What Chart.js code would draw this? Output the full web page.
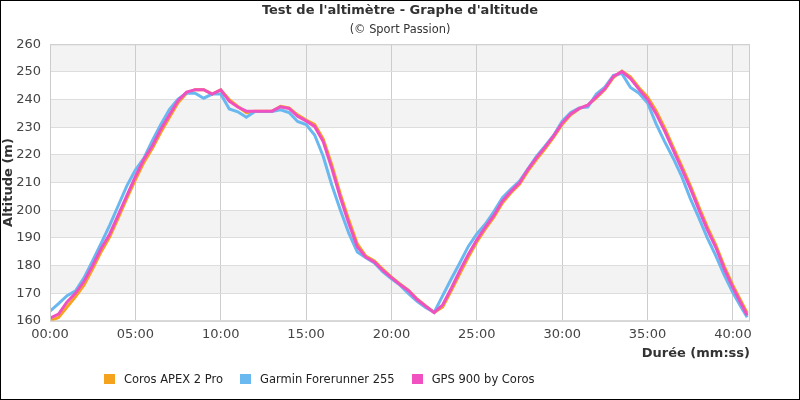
<!DOCTYPE html>
<html>
<head>
<meta charset="utf-8">
<script src="https://cdn.jsdelivr.net/npm/chart.js@4"></script>
<style>
  body { margin: 0; background: #fff; }
  #wrap { width: 800px; height: 400px; position: relative; }
  #legend { position: absolute; left: 104px; top: 371px; display: flex;
            font: 11.5px "DejaVu Sans", sans-serif; color: #222; line-height: 16px; }
  #legend .item { display: flex; align-items: center; margin-right: 17px; }
  #legend .box { width: 11px; height: 10px; margin-right: 9px; }
</style>
</head>
<body>
<div id="wrap">
  <canvas id="altChart"></canvas>
  <div id="legend"></div>
</div>
<script>
// temps en secondes (toutes les 30 s)
const times = [0,30,60,90,120,150,180,210,240,270,300,330,360,390,420,450,480,510,540,570,
  600,630,660,690,720,750,780,810,840,870,900,930,960,990,1020,1050,1080,1110,1140,1170,
  1200,1230,1260,1290,1320,1350,1380,1410,1440,1470,1500,1530,1560,1590,1620,1650,1680,1710,1740,1770,
  1800,1830,1860,1890,1920,1950,1980,2010,2040,2070,2100,2130,2160,2190,2220,2250,2280,2310,2340,2370,
  2400,2430,2450];

const corosApex = [160,161.2,165,168.8,173,178.8,185,190.4,197.2,204.3,211,217.3,222.4,228.3,233.6,238.9,242.3,243.6,243.6,242,
  243.5,240,237.5,235.3,235.8,235.8,235.8,237.6,237,234.5,232.6,231,225.8,216.5,206,196.5,187.8,183.4,181.6,178.6,
  175.8,173.3,171,167.9,165.4,163,165,170.8,177,183,188.5,193.2,197.5,202.6,206.3,209.4,214.2,218.4,222.2,226.4,
  231,234.5,236.7,238,240.6,243.6,248,250.3,248.2,244.3,241,236,229.8,222.8,216,209,201.3,194,187.4,179.6,
  172.8,166.8,162.8];

const garmin255 = [163.5,166.2,169.1,170.8,175.6,181.7,188.1,194.6,201.7,208.8,214.5,218.8,225.2,231.1,236.5,240.2,242.4,242.3,240.5,242,
  242,236.6,235.6,233.6,235.7,235.7,235.7,236.3,235.3,232.1,231,227.2,219.5,209.2,200.2,191.7,184.9,182.8,180.9,177.7,
  175.2,172.9,169.8,167,164.8,163,169.1,175.1,180.9,186.9,191.4,195,199.5,204.5,207.6,210.5,215,219.5,223.2,227.1,
  232.2,235.3,237,237.3,242,244.5,248.8,249.4,244.4,242.3,238.8,231.2,224.8,218.8,212.2,204.3,197.3,190,183.5,176.4,
  170.1,164.7,161.3];

const gps900 = [161,162.4,166.8,170,174.3,180,186.2,191.4,198.3,205.3,212.1,218.4,223.3,229.4,234.5,239.6,242.7,243.6,243.6,242,
  243.5,239.4,237.3,235.8,235.8,235.8,235.8,237.4,236.8,234,232.3,230.3,224.8,215.3,204.7,195.3,186.8,183,181.3,178.2,
  175.6,173.1,170.9,167.7,165.3,163,165.8,171.7,178,184,189.3,193.9,198.1,203.3,206.8,209.9,214.8,219,222.8,226.9,
  231.5,234.8,236.8,238,241,243.9,248.4,250.1,247.6,243.7,240.1,234.9,228.7,221.8,215,208,200.3,193,186.5,178.7,
  172,166,162];

const seriesNames = ['Coros APEX 2 Pro', 'Garmin Forerunner 255', 'GPS 900 by Coros'];
const seriesColors = ['#f5a31e', '#6ab8f0', '#f050c0'];
const xTicks = [0, 300, 600, 900, 1200, 1500, 1800, 2100, 2400];

function toPoints(values) {
  return values.map((v, i) => ({ x: times[i], y: v }));
}

function mmss(sec) {
  const m = Math.floor(sec / 60);
  const s = sec % 60;
  return String(m).padStart(2, '0') + ':' + String(s).padStart(2, '0');
}

// bandes grises alternées + cadres
const bandsPlugin = {
  id: 'bands',
  beforeDraw(chart) {
    const { ctx, chartArea, scales } = chart;
    const y = scales.y;
    ctx.save();
    ctx.fillStyle = '#f3f3f3';
    for (let v = 170; v < 260; v += 20) {
      const top = y.getPixelForValue(v + 10);
      const bot = y.getPixelForValue(v);
      ctx.fillRect(chartArea.left, top, chartArea.right - chartArea.left, bot - top);
    }
    ctx.restore();
  },
  afterDatasetsDraw(chart) {
    const { ctx, chartArea } = chart;
    ctx.save();
    ctx.strokeStyle = '#cccccc';
    ctx.lineWidth = 1;
    ctx.strokeRect(chartArea.left + 0.5, chartArea.top + 0.5,
      chartArea.right - chartArea.left - 1, chartArea.bottom - chartArea.top);
    ctx.restore();
  },
  afterDraw(chart) {
    const ctx = chart.ctx;
    ctx.save();
    ctx.strokeStyle = '#000';
    ctx.lineWidth = 1;
    ctx.strokeRect(0.5, 0.5, chart.width - 1, chart.height - 1);
    ctx.restore();
  }
};

// légende en HTML
const legendEl = document.getElementById('legend');
seriesNames.forEach((name, i) => {
  const item = document.createElement('div');
  item.className = 'item';
  const box = document.createElement('span');
  box.className = 'box';
  box.style.background = seriesColors[i];
  const txt = document.createElement('span');
  txt.textContent = name;
  item.appendChild(box);
  item.appendChild(txt);
  legendEl.appendChild(item);
});

const ctx = document.getElementById('altChart').getContext('2d');
const altChart = new Chart(ctx, {
  type: 'line',
  data: {
    datasets: [corosApex, garmin255, gps900].map((vals, i) => ({
      label: seriesNames[i],
      data: toPoints(vals),
      borderColor: seriesColors[i],
      backgroundColor: seriesColors[i],
      borderWidth: 3,
      pointRadius: 0,
      tension: 0,
      order: 2 - i
    }))
  },
  options: {
    responsive: true,
    maintainAspectRatio: false,
    animation: false,
    layout: { padding: { left: 0, right: 0, top: 0, bottom: 39 } },
    scales: {
      x: {
        type: 'linear',
        min: 0,
        max: 2460,
        afterBuildTicks(scale) {
          scale.ticks = xTicks.map(v => ({ value: v }));
        },
        grid: { color: '#cccccc', drawTicks: false },
        border: { display: false },
        ticks: {
          callback: v => mmss(v),
          color: '#444',
          font: { family: 'DejaVu Sans', size: 13 },
          padding: 6,
          maxRotation: 0
        },
        title: {
          display: true,
          text: 'Durée (mm:ss)',
          align: 'end',
          color: '#333',
          font: { family: 'DejaVu Sans', size: 13, weight: 'bold' },
          padding: { top: -3, bottom: 0 }
        }
      },
      y: {
        min: 160,
        max: 260,
        afterFit(scale) { scale.width = 50; },
        ticks: {
          stepSize: 10,
          color: '#444',
          font: { family: 'DejaVu Sans', size: 13 },
          padding: 9
        },
        grid: { color: '#dddddd', drawTicks: false },
        border: { display: false },
        title: {
          display: true,
          text: 'Altitude (m)',
          color: '#333',
          font: { family: 'DejaVu Sans', size: 13, weight: 'bold' },
          padding: { top: 1, bottom: 0 }
        }
      },
      yRight: {
        position: 'right',
        min: 160,
        max: 260,
        afterFit(scale) { scale.width = 50; },
        ticks: { display: false },
        grid: { display: false },
        border: { display: false }
      }
    },
    plugins: {
      title: {
        display: true,
        text: "Test de l'altimètre - Graphe d'altitude",
        color: '#333',
        font: { family: 'DejaVu Sans', size: 13, weight: 'bold' },
        padding: { top: 3, bottom: 5 }
      },
      subtitle: {
        display: true,
        text: '(© Sport Passion)',
        color: '#333',
        font: { family: 'DejaVu Sans', size: 11.4 },
        padding: { top: 0, bottom: 7 }
      },
      legend: { display: false },
      tooltip: { enabled: false }
    }
  },
  plugins: [bandsPlugin]
});
</script>
</body>
</html>
